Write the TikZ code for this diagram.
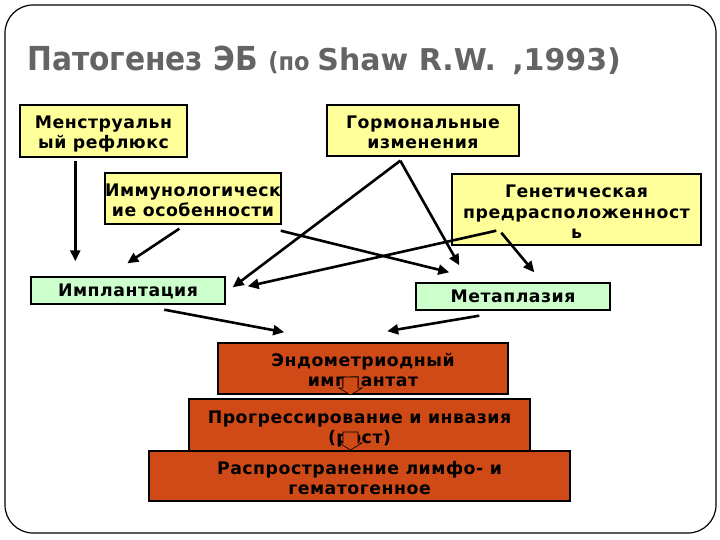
\documentclass[tikz,border=0pt]{standalone}
\usepackage{fontspec}
\setmainfont{DejaVu Sans}
\newfontfamily\boxfont{DejaVu Sans}[LetterSpace=3]
\newfontfamily\plainfont{DejaVu Sans}
\newfontfamily\condfont{DejaVu Sans Condensed Bold}
\usetikzlibrary{arrows.meta,calc}
\definecolor{ylw}{RGB}{255,255,153}
\definecolor{grn}{RGB}{204,255,204}
\definecolor{org}{RGB}{208,74,24}
\definecolor{ttl}{RGB}{100,100,100}
\tikzset{
  box/.style={draw=black,line width=1.4pt,align=center,inner sep=0pt,
    font=\boxfont\bfseries\fontsize{17.3}{20}\selectfont,text height=38pt,text depth=2pt},
  one/.style={text height=14pt,text depth=2pt},
  three/.style={text height=59pt,text depth=2pt},
  ybox/.style={box,fill=ylw},
  gbox/.style={box,fill=grn},
  obox/.style={box,fill=org,line width=1.6pt},
  arr/.style={line width=2.6pt,-{Triangle[length=11pt,width=10pt]}},
  blk/.style={fill=org,draw=black,line width=0.6pt}
}
\begin{document}
\begin{tikzpicture}[x=1pt,y=-1pt]
\useasboundingbox (0,0) rectangle (720,540);
\draw[line width=1.2pt,rounded corners=28pt] (5,5) rectangle (716,533);
% title
\node[anchor=base west,inner sep=0pt,text=ttl] (title) at (27,71)
  {\condfont\fontsize{33}{36}\selectfont Патогенез ЭБ \fontsize{25}{27}\selectfont(по
   \plainfont\bfseries\fontsize{30}{32}\selectfont Shaw R.W.\hspace{6pt} ,1993)};
% boxes
\node[ybox,minimum width=167pt,minimum height=52pt] (mr) at (103.5,131) {Менструальн\\ый рефлюкс};
\node[ybox,minimum width=192pt,minimum height=51pt] (gi) at (423,130.5) {Гормональные\\изменения};
\node[ybox,minimum width=176pt,minimum height=51pt] (io) at (193,198.5) {Иммунологическ\\ие особенности};
\node[ybox,three,minimum width=249pt,minimum height=71pt] (gp) at (576.5,209.5) {Генетическая\\предрасположенност\\ь};
\node[gbox,one,minimum width=194pt,minimum height=27pt] (im) at (128,290.5) {Имплантация};
\node[gbox,one,minimum width=194pt,minimum height=27pt] (mt) at (513,296.5) {Метаплазия};
\node[obox,minimum width=290pt,minimum height=51pt] (ei) at (363,368.5) {Эндометриодный\\имплантат};
\node[obox,minimum width=341pt,minimum height=52pt] (pi) at (359.5,425) {Прогрессирование и инвазия\\(рост)};
\node[obox,minimum width=421pt,minimum height=50pt] (rl) at (359.5,476) {Распространение лимфо- и\\гематогенное};
% small block arrows
\draw[blk] (343,377) -- (358,377) -- (358,388) -- (362,388) -- (350.5,395) -- (339,388) -- (343,388) -- cycle;
\draw[blk] (343,432) -- (358,432) -- (358,443) -- (362,443) -- (350.5,450) -- (339,443) -- (343,443) -- cycle;
% connector ends
\coordinate (mrS) at ($(mr.south west)+(56,3)$);
\coordinate (imA) at ($(im.north west)+(45,-15)$);
\coordinate (ioS) at ($(io.south west)+(75,4)$);
\coordinate (imB) at ($(im.north west)+(97,-13)$);
\coordinate (giS) at ($(gi.south west)+(74,4)$);
\coordinate (imC) at ($(im.north east)+(7,11)$);
\coordinate (mtA) at ($(mt.north west)+(44,-17)$);
\coordinate (ioR) at ($(io.south east)+(-1,6)$);
\coordinate (mtB) at ($(mt.north west)+(34,-10)$);
\coordinate (gpS) at ($(gp.south west)+(45,-15)$);
\coordinate (imD) at ($(im.north east)+(22,10)$);
\coordinate (gpT) at ($(gp.south west)+(50,-13)$);
\coordinate (mtC) at ($(mt.north west)+(119,-10)$);
\coordinate (imS) at ($(im.south west)+(134,5)$);
\coordinate (eiL) at ($(ei.north west)+(67,-10)$);
\coordinate (mtS) at ($(mt.south west)+(64,5)$);
\coordinate (eiR) at ($(ei.north west)+(170,-11)$);
% connectors
\draw[arr] (mrS) -- (imA);
\draw[arr] (ioS) -- (imB);
\draw[arr] (giS) -- (imC);
\draw[arr] (giS) -- (mtA);
\draw[arr] (ioR) -- (mtB);
\draw[arr] (gpS) -- (imD);
\draw[arr] (gpT) -- (mtC);
\draw[arr] (imS) -- (eiL);
\draw[arr] (mtS) -- (eiR);
\end{tikzpicture}
\end{document}
